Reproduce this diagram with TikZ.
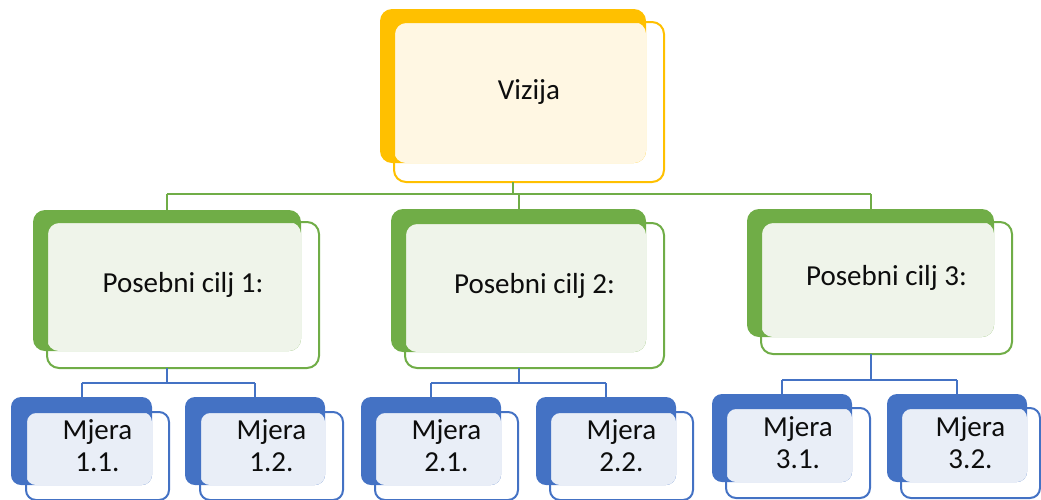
\documentclass[tikz,border=0pt]{standalone}
\usepackage{fontspec}
\setmainfont{Carlito}
\usetikzlibrary{fit}
\pgfdeclarelayer{background}
\pgfsetlayers{background,main}
\definecolor{gold}{HTML}{FFC000}
\definecolor{goldlt}{HTML}{FFF7E3}
\definecolor{grn}{HTML}{70AD47}
\definecolor{grnlt}{HTML}{EFF4EA}
\definecolor{blu}{HTML}{4472C4}
\definecolor{blult}{HTML}{E9EEF7}
\tikzset{
  backbox/.style={inner sep=0pt, outer sep=0pt, draw=none},
  frontbox/.style={inner sep=0pt, outer sep=0pt, line width=2pt, align=center,
    font=\fontsize{29}{32}\selectfont, text=black!95},
  gline/.style={draw=grn, line width=2pt},
  bline/.style={draw=blu, line width=2pt},
}
\newcommand\tbox[7]{%
  \begin{pgfonlayer}{background}
    \node[backbox, fill=#4, rounded corners=#6, fit={#2}] (#1b) {};
  \end{pgfonlayer}
  \node[frontbox, draw=#4, rounded corners=#6, fit={#3}] (#1f) {#7};
  \begin{pgfonlayer}{background}
    \fill[#5, rounded corners=#6] (#1f.north west) rectangle (#1b.south east);
  \end{pgfonlayer}
}
\begin{document}
\begin{tikzpicture}[x=1pt,y=-1pt]
\useasboundingbox (0,0) rectangle (1041,499);
% top
\tbox{V}{(380,9) (646,163)}{(394,22) (664,182)}{gold}{goldlt}{12pt}{Vizija}
% green
\tbox{GA}{(33,210) (301,351)}{(47,222) (319,368)}{grn}{grnlt}{12pt}{Posebni cilj 1:}
\tbox{GB}{(391,209) (646,352)}{(405,223) (664,368)}{grn}{grnlt}{12pt}{Posebni cilj 2:}
\tbox{GC}{(747,209) (994,337)}{(761,222) (1012,354)}{grn}{grnlt}{12pt}{Posebni cilj 3:}
% blue
\tbox{BAA}{(11,397) (152,485)}{(26,412) (169,500)}{blu}{blult}{10pt}{Mjera\\1.1.}
\tbox{BAB}{(185,397) (325,485)}{(200,412) (343,500)}{blu}{blult}{10pt}{Mjera\\1.2.}
\tbox{BBA}{(361,397) (501,485)}{(375,412) (518,500)}{blu}{blult}{10pt}{Mjera\\2.1.}
\tbox{BBB}{(536,397) (676,485)}{(550,412) (693,500)}{blu}{blult}{10pt}{Mjera\\2.2.}
\tbox{BCA}{(712,394) (852,482)}{(726,408) (870,498)}{blu}{blult}{10pt}{Mjera\\3.1.}
\tbox{BCB}{(887,394) (1027,482)}{(901,408) (1040,498)}{blu}{blult}{10pt}{Mjera\\3.2.}
% connectors: vision to goals
\coordinate (vbus) at (0,194);
\draw[gline] (Vb.south |- Vf.south) -- (Vb.south |- vbus);
\draw[gline] (GAb.north |- vbus) -- (GCb.north |- vbus);
\foreach \g in {GA,GB,GC} \draw[gline] (\g b.north |- vbus) -- (\g b.north);
% connectors: goals to measures
\coordinate (abus) at (0,383);
\coordinate (cbus) at (0,380);
\draw[bline] (GAb.south |- GAf.south) -- (GAb.south |- abus);
\draw[bline] (BAAb.north |- abus) -- (BABb.north |- abus);
\foreach \m in {BAA,BAB} \draw[bline] (\m b.north |- abus) -- (\m b.north);
\draw[bline] (GBb.south |- GBf.south) -- (GBb.south |- abus);
\draw[bline] (BBAb.north |- abus) -- (BBBb.north |- abus);
\foreach \m in {BBA,BBB} \draw[bline] (\m b.north |- abus) -- (\m b.north);
\draw[bline] (GCb.south |- GCf.south) -- (GCb.south |- cbus);
\draw[bline] (BCAb.north |- cbus) -- (BCBb.north |- cbus);
\foreach \m in {BCA,BCB} \draw[bline] (\m b.north |- cbus) -- (\m b.north);
\end{tikzpicture}
\end{document}
